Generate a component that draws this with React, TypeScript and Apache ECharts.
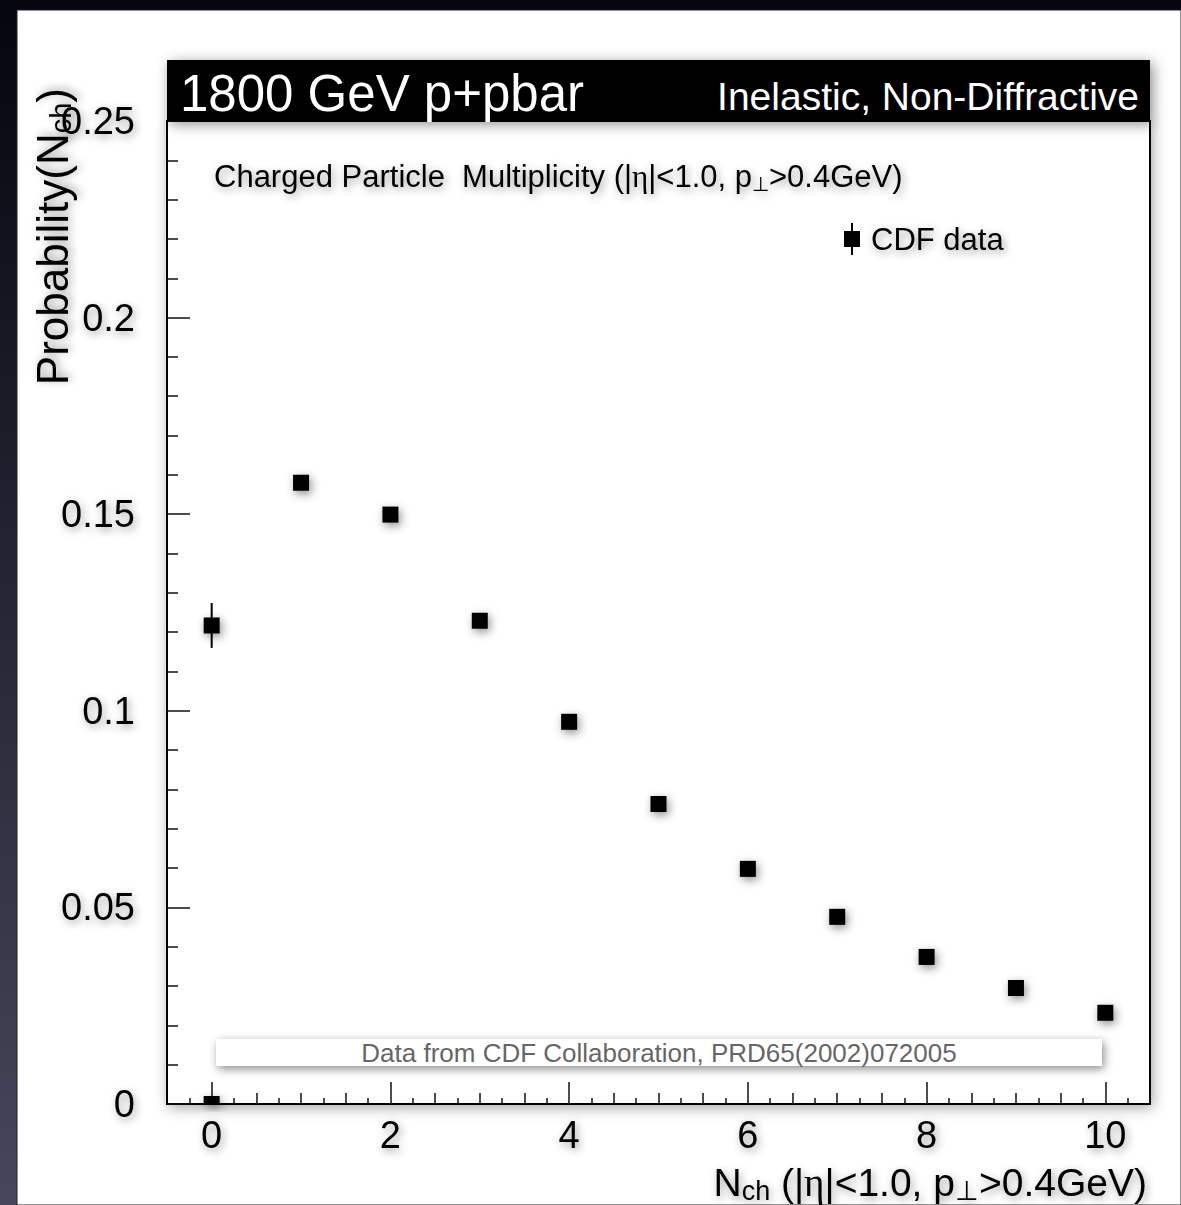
import React, { useEffect, useRef } from "react";
import * as echarts from "echarts";

// ---- data ----
const nch = [0, 1, 2, 3, 4, 5, 6, 7, 8, 9, 10];
const probability = [0.1217, 0.158, 0.1499, 0.1229, 0.0972, 0.0763, 0.0598, 0.0476, 0.0374, 0.0295, 0.0232];
const probError = [0.0057, 0.0016, 0.0015, 0.0013, 0.0011, 0.0009, 0.0008, 0.0007, 0.0006, 0.0005, 0.0005];
// a lone point drawn at the origin (half hidden under the axis)
const originX = [0];
const originY = [0];
const originError = [0];

const xMajorTicks = [0, 2, 4, 6, 8, 10];
const xHalfTicks = [0.5, 1, 1.5, 2.5, 3, 3.5, 4.5, 5, 5.5, 6.5, 7, 7.5, 8.5, 9, 9.5, 10.5];
const xQuarterTicks = [-0.25, 0.25, 0.75, 1.25, 1.75, 2.25, 2.75, 3.25, 3.75, 4.25, 4.75, 5.25, 5.75, 6.25, 6.75, 7.25, 7.75, 8.25, 8.75, 9.25, 9.75, 10.25];
const yTicks = [0, 0.05, 0.1, 0.15, 0.2, 0.25];

const FONT = '"Liberation Sans", Arial, Helvetica, sans-serif';
const SH = { textShadowColor: "rgba(0,0,0,0.4)", textShadowBlur: 9, textShadowOffsetX: 2, textShadowOffsetY: 3 };
const MARKER = 16;

export default function App() {
  const ref = useRef<HTMLDivElement>(null);

  useEffect(() => {
    document.body.style.margin = "0";
    if (!ref.current) return;
    const chart = echarts.init(ref.current, null, { renderer: "svg" });

    const hiddenAxis = (ticks: number[], len: number) => ({
      type: "value",
      min: -0.5,
      max: 10.5,
      position: "bottom",
      gridIndex: 0,
      axisLine: { show: false, onZero: false },
      axisTick: { show: true, inside: true, length: len, customValues: ticks, lineStyle: { color: "#111", width: 1.5 } },
      axisLabel: { show: false },
      splitLine: { show: false },
    });

    const points = [
      ...nch.map((x, i) => [x, probability[i], probError[i]]),
      ...originX.map((x, i) => [x, originY[i], originError[i]]),
    ];

    const option: any = {
      animation: false,
      backgroundColor: {
        type: "linear", x: 0, y: 0, x2: 0, y2: 1,
        colorStops: [
          { offset: 0, color: "#05050e" },
          { offset: 1, color: "#46475b" },
        ],
      },
      grid: {
        left: 167, top: 121, width: 983, height: 983,
        show: true, backgroundColor: "#fff", borderColor: "#000", borderWidth: 2,
        shadowBlur: 14, shadowColor: "rgba(0,0,0,0.35)", shadowOffsetX: 2, shadowOffsetY: 3,
      },
      legend: {
        data: [{ name: "CDF data", icon: "path://M7,0 L9,0 L9,8 L16,8 L16,24 L9,24 L9,32 L7,32 L7,24 L0,24 L0,8 L7,8 Z" }],
        left: 839, top: 218, itemWidth: 28, itemHeight: 32,
        itemStyle: { color: "#000", opacity: 1 },
        textStyle: { fontSize: 31, fontFamily: FONT, color: "#000", ...SH },
      },
      xAxis: [
        {
          type: "value", min: -0.5, max: 10.5, position: "bottom",
          axisLine: { show: true, onZero: false, lineStyle: { color: "#000", width: 2 } },
          axisTick: { show: true, inside: true, length: 22, customValues: xMajorTicks, lineStyle: { color: "#111", width: 1.5 } },
          axisLabel: { customValues: xMajorTicks, fontSize: 38, fontFamily: FONT, color: "#000", margin: 12, ...SH },
          splitLine: { show: false },
        },
        hiddenAxis(xHalfTicks, 11),
        hiddenAxis(xQuarterTicks, 6),
      ],
      yAxis: {
        type: "value", min: 0, max: 0.25, interval: 0.05,
        axisLine: { show: true, onZero: false, lineStyle: { color: "#000", width: 2 } },
        axisTick: { show: true, inside: true, length: 23, lineStyle: { color: "#111", width: 1.5 } },
        minorTick: { show: true, splitNumber: 5, length: 11, lineStyle: { color: "#111", width: 1.5 } },
        axisLabel: {
          customValues: yTicks,
          fontSize: 38, fontFamily: FONT, color: "#000", margin: 32, ...SH,
          formatter: (v: number) => String(parseFloat(v.toFixed(2))),
        },
        splitLine: { show: false },
      },
      series: [
        {
          name: "CDF data",
          type: "custom",
          silent: true,
          z: 4,
          itemStyle: { color: "#000", opacity: 1 },
          data: points,
          encode: { x: 0, y: 1 },
          renderItem: (params: any, api: any) => {
            const x = api.value(0), y = api.value(1), e = api.value(2);
            const c = api.coord([x, y]);
            const cs = params.coordSys;
            const clip = { x: cs.x, y: cs.y, width: cs.width, height: cs.height };
            const sq = echarts.graphic.clipRectByRect(
              { x: c[0] - MARKER / 2, y: c[1] - MARKER / 2, width: MARKER, height: MARKER },
              clip
            );
            const children: any[] = [];
            if (e > 0) {
              const p1 = api.coord([x, y - e]);
              const p2 = api.coord([x, y + e]);
              children.push({
                type: "line",
                shape: { x1: p1[0], y1: p1[1], x2: p2[0], y2: p2[1] },
                style: { stroke: "#000", lineWidth: 2 },
              });
            }
            if (sq) {
              children.push({
                type: "rect",
                shape: sq,
                style: { fill: "#000", shadowBlur: 10, shadowColor: "rgba(0,0,0,0.45)", shadowOffsetX: 2, shadowOffsetY: 3 },
              });
            }
            return { type: "group", children };
          },
        },
      ],
      graphic: [
        // white slide panel
        { type: "rect", z: -100, shape: { x: 17, y: 10, width: 1164, height: 1195 }, style: { fill: "#fff", stroke: "#222", lineWidth: 1 } },
        // title bar
        {
          type: "rect", z: 100, shape: { x: 167, y: 60, width: 983, height: 61 },
          style: { fill: "#000", shadowBlur: 14, shadowColor: "rgba(0,0,0,0.45)", shadowOffsetX: 3, shadowOffsetY: 3 },
        },
        {
          type: "text", z: 101, x: 180, y: 93,
          style: { text: "1800 GeV p+pbar", fill: "#fff", font: `51px ${FONT}`, align: "left", verticalAlign: "middle" },
        },
        {
          type: "text", z: 101, x: 1139, y: 96,
          style: { text: "Inelastic, Non-Diffractive", fill: "#fff", font: `39px ${FONT}`, align: "right", verticalAlign: "middle" },
        },
        // subtitle
        {
          type: "text", z: 20, x: 214, y: 176,
          style: {
            text: "{a|Charged Particle  Multiplicity (|}{g|η}{a||<1.0, p}{s|⊥}{a|>0.4GeV)}",
            align: "left", verticalAlign: "middle",
            rich: {
              a: { fontSize: 31, fontFamily: FONT, fill: "#000", lineHeight: 36, ...SH },
              g: { fontSize: 31, fontFamily: '"Liberation Serif", serif', fill: "#000", lineHeight: 36, ...SH },
              s: { fontSize: 20, fontFamily: FONT, fill: "#000", lineHeight: 8, verticalAlign: "bottom", ...SH },
            },
          },
        },
        // data credit box
        {
          type: "rect", z: 20, shape: { x: 216, y: 1039, width: 886, height: 27 },
          style: { fill: "#fff", shadowBlur: 10, shadowColor: "rgba(0,0,0,0.45)", shadowOffsetX: 2, shadowOffsetY: 3 },
        },
        {
          type: "text", z: 21, x: 659, y: 1053,
          style: { text: "Data from CDF Collaboration, PRD65(2002)072005", fill: "#666", font: `26px ${FONT}`, align: "center", verticalAlign: "middle" },
        },
        // x axis title
        {
          type: "text", z: 20, x: 1147, y: 1182,
          style: {
            text: "{a|N}{s|ch}{a| (|}{g|η}{a||<1.0, p}{s|⊥}{a|>0.4GeV)}",
            align: "right", verticalAlign: "middle",
            rich: {
              a: { fontSize: 39, fontFamily: FONT, fill: "#000", lineHeight: 44, ...SH },
              g: { fontSize: 39, fontFamily: '"Liberation Serif", serif', fill: "#000", lineHeight: 44, ...SH },
              s: { fontSize: 27, fontFamily: FONT, fill: "#000", lineHeight: 6, verticalAlign: "bottom", ...SH },
            },
          },
        },
        // y axis title
        {
          type: "text", z: 20, x: 52, y: 88, rotation: Math.PI / 2,
          style: {
            text: "{a|Probability(N}{s|ch}{a|)}",
            align: "right", verticalAlign: "middle",
            rich: {
              a: { fontSize: 44, fontFamily: FONT, fill: "#000", lineHeight: 46, ...SH },
              s: { fontSize: 29, fontFamily: FONT, fill: "#000", lineHeight: 14, verticalAlign: "bottom", ...SH },
            },
          },
        },
      ],
    };

    chart.setOption(option);
    return () => chart.dispose();
  }, []);

  return <div ref={ref} style={{ position: "absolute", left: 0, top: 0, width: 1181, height: 1205 }} />;
}
